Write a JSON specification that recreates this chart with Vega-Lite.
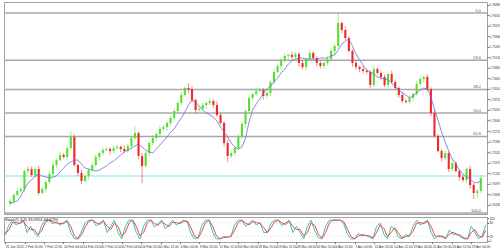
{
  "$schema": "https://vega.github.io/schema/vega-lite/v6.json",
  "padding": {"left": 2, "top": 1, "right": 0, "bottom": 0},
  "background": "white",
  "config": {"view": {"stroke": "#a0a0a0", "strokeWidth": 1}, "font": "Liberation Sans", "axis": {"labelFont": "Liberation Sans", "labelColor": "#333", "tickColor": "#666", "domain": false, "grid": false}},
  "spacing": 0,
  "datasets": {
    "candles": [
      {"b":0,"o":0.70300,"h":0.70480,"l":0.70240,"c":0.70400,"ma":0.70334},
      {"b":3,"o":0.70400,"h":0.70648,"l":0.70300,"c":0.70598,"ma":0.70367},
      {"b":6,"o":0.70598,"h":0.70840,"l":0.70528,"c":0.70730,"ma":0.70400},
      {"b":9,"o":0.70730,"h":0.70866,"l":0.70680,"c":0.70796,"ma":0.70565},
      {"b":12,"o":0.70796,"h":0.71450,"l":0.70676,"c":0.71390,"ma":0.70796},
      {"b":15,"o":0.71390,"h":0.71546,"l":0.71310,"c":0.71456,"ma":0.70994},
      {"b":18,"o":0.71456,"h":0.71536,"l":0.71198,"c":0.71258,"ma":0.71093},
      {"b":21,"o":0.71258,"h":0.71506,"l":0.71158,"c":0.71456,"ma":0.71225},
      {"b":24,"o":0.71456,"h":0.71566,"l":0.70594,"c":0.70664,"ma":0.71291},
      {"b":27,"o":0.70664,"h":0.70866,"l":0.70614,"c":0.70796,"ma":0.71225},
      {"b":30,"o":0.70796,"h":0.71087,"l":0.70676,"c":0.71027,"ma":0.71192},
      {"b":33,"o":0.71027,"h":0.71381,"l":0.70947,"c":0.71291,"ma":0.71159},
      {"b":36,"o":0.71291,"h":0.71668,"l":0.71231,"c":0.71588,"ma":0.71192},
      {"b":39,"o":0.71588,"h":0.71803,"l":0.71488,"c":0.71753,"ma":0.71225},
      {"b":42,"o":0.71753,"h":0.72028,"l":0.71683,"c":0.71918,"ma":0.71357},
      {"b":45,"o":0.71918,"h":0.71988,"l":0.71802,"c":0.71852,"ma":0.71489},
      {"b":48,"o":0.71852,"h":0.72209,"l":0.71732,"c":0.72149,"ma":0.71621},
      {"b":51,"o":0.72149,"h":0.72710,"l":0.72069,"c":0.72512,"ma":0.71687},
      {"b":54,"o":0.72512,"h":0.72592,"l":0.71528,"c":0.71588,"ma":0.71753},
      {"b":57,"o":0.71588,"h":0.71638,"l":0.71224,"c":0.71324,"ma":0.71753},
      {"b":60,"o":0.71324,"h":0.71434,"l":0.70961,"c":0.71060,"ma":0.71621},
      {"b":63,"o":0.71060,"h":0.71295,"l":0.71010,"c":0.71225,"ma":0.71489},
      {"b":66,"o":0.71225,"h":0.71483,"l":0.71105,"c":0.71423,"ma":0.71456},
      {"b":69,"o":0.71423,"h":0.71678,"l":0.71343,"c":0.71588,"ma":0.71423},
      {"b":72,"o":0.71588,"h":0.71932,"l":0.71528,"c":0.71852,"ma":0.71390},
      {"b":75,"o":0.71852,"h":0.72034,"l":0.71752,"c":0.71984,"ma":0.71423},
      {"b":78,"o":0.71984,"h":0.72193,"l":0.71914,"c":0.72083,"ma":0.71489},
      {"b":81,"o":0.72083,"h":0.72186,"l":0.72033,"c":0.72116,"ma":0.71555},
      {"b":84,"o":0.72116,"h":0.72176,"l":0.71930,"c":0.72050,"ma":0.71654},
      {"b":87,"o":0.72050,"h":0.72239,"l":0.71970,"c":0.72149,"ma":0.71720},
      {"b":90,"o":0.72149,"h":0.72262,"l":0.72089,"c":0.72182,"ma":0.71819},
      {"b":93,"o":0.72182,"h":0.72232,"l":0.72016,"c":0.72116,"ma":0.71918},
      {"b":96,"o":0.72116,"h":0.72226,"l":0.71980,"c":0.72050,"ma":0.72017},
      {"b":99,"o":0.72050,"h":0.72285,"l":0.71995,"c":0.72215,"ma":0.72083},
      {"b":102,"o":0.72215,"h":0.72539,"l":0.72095,"c":0.72479,"ma":0.72149},
      {"b":105,"o":0.72479,"h":0.72850,"l":0.72399,"c":0.72644,"ma":0.72215},
      {"b":108,"o":0.72644,"h":0.72694,"l":0.71785,"c":0.71885,"ma":0.72281},
      {"b":111,"o":0.71885,"h":0.71995,"l":0.70994,"c":0.71555,"ma":0.72182},
      {"b":114,"o":0.71555,"h":0.72054,"l":0.71505,"c":0.71984,"ma":0.72083},
      {"b":117,"o":0.71984,"h":0.72374,"l":0.71864,"c":0.72314,"ma":0.72017},
      {"b":120,"o":0.72314,"h":0.72569,"l":0.72234,"c":0.72479,"ma":0.71984},
      {"b":123,"o":0.72479,"h":0.72661,"l":0.72379,"c":0.72611,"ma":0.72116},
      {"b":126,"o":0.72611,"h":0.72886,"l":0.72541,"c":0.72776,"ma":0.72248},
      {"b":129,"o":0.72776,"h":0.72912,"l":0.72726,"c":0.72842,"ma":0.72380},
      {"b":132,"o":0.72842,"h":0.73034,"l":0.72722,"c":0.72974,"ma":0.72512},
      {"b":135,"o":0.72974,"h":0.73229,"l":0.72894,"c":0.73139,"ma":0.72677},
      {"b":138,"o":0.73139,"h":0.73450,"l":0.73079,"c":0.73370,"ma":0.72776},
      {"b":141,"o":0.73370,"h":0.73684,"l":0.73270,"c":0.73634,"ma":0.72974},
      {"b":144,"o":0.73634,"h":0.74008,"l":0.73564,"c":0.73898,"ma":0.73139},
      {"b":147,"o":0.73898,"h":0.74199,"l":0.73848,"c":0.74129,"ma":0.73337},
      {"b":150,"o":0.74129,"h":0.74294,"l":0.73976,"c":0.74096,"ma":0.73568},
      {"b":153,"o":0.74096,"h":0.74186,"l":0.73653,"c":0.73733,"ma":0.73733},
      {"b":156,"o":0.73733,"h":0.73783,"l":0.73303,"c":0.73403,"ma":0.73667},
      {"b":159,"o":0.73403,"h":0.73546,"l":0.73333,"c":0.73436,"ma":0.73535},
      {"b":162,"o":0.73436,"h":0.73638,"l":0.73386,"c":0.73568,"ma":0.73403},
      {"b":165,"o":0.73568,"h":0.73694,"l":0.73448,"c":0.73634,"ma":0.73304},
      {"b":168,"o":0.73634,"h":0.73790,"l":0.73554,"c":0.73700,"ma":0.73238},
      {"b":171,"o":0.73700,"h":0.73750,"l":0.73468,"c":0.73568,"ma":0.73172},
      {"b":174,"o":0.73568,"h":0.73678,"l":0.73168,"c":0.73238,"ma":0.73040},
      {"b":177,"o":0.73238,"h":0.73308,"l":0.72924,"c":0.72974,"ma":0.72842},
      {"b":180,"o":0.72974,"h":0.73034,"l":0.72194,"c":0.72314,"ma":0.72677},
      {"b":183,"o":0.72314,"h":0.72404,"l":0.71687,"c":0.71885,"ma":0.72512},
      {"b":186,"o":0.71885,"h":0.72064,"l":0.71825,"c":0.71984,"ma":0.72314},
      {"b":189,"o":0.71984,"h":0.72199,"l":0.71884,"c":0.72149,"ma":0.72182},
      {"b":192,"o":0.72149,"h":0.72622,"l":0.72079,"c":0.72512,"ma":0.72116},
      {"b":195,"o":0.72512,"h":0.73011,"l":0.72462,"c":0.72941,"ma":0.72182},
      {"b":198,"o":0.72941,"h":0.73430,"l":0.72821,"c":0.73370,"ma":0.72479},
      {"b":201,"o":0.73370,"h":0.73889,"l":0.73290,"c":0.73799,"ma":0.73007},
      {"b":204,"o":0.73799,"h":0.73981,"l":0.73699,"c":0.73931,"ma":0.73403},
      {"b":207,"o":0.73931,"h":0.74140,"l":0.73861,"c":0.74030,"ma":0.73601},
      {"b":210,"o":0.74030,"h":0.74133,"l":0.73980,"c":0.74063,"ma":0.73766},
      {"b":213,"o":0.74063,"h":0.74123,"l":0.73745,"c":0.73865,"ma":0.73964},
      {"b":216,"o":0.73865,"h":0.74054,"l":0.73785,"c":0.73964,"ma":0.74096},
      {"b":219,"o":0.73964,"h":0.74377,"l":0.73864,"c":0.74327,"ma":0.74195},
      {"b":222,"o":0.74327,"h":0.74767,"l":0.74257,"c":0.74657,"ma":0.74327},
      {"b":225,"o":0.74657,"h":0.74925,"l":0.74607,"c":0.74855,"ma":0.74459},
      {"b":228,"o":0.74855,"h":0.75113,"l":0.74735,"c":0.75053,"ma":0.74624},
      {"b":231,"o":0.75053,"h":0.75275,"l":0.74973,"c":0.75185,"ma":0.74756},
      {"b":234,"o":0.75185,"h":0.75268,"l":0.75085,"c":0.75218,"ma":0.74921},
      {"b":237,"o":0.75218,"h":0.75328,"l":0.75082,"c":0.75152,"ma":0.75020},
      {"b":240,"o":0.75152,"h":0.75321,"l":0.75102,"c":0.75251,"ma":0.75086},
      {"b":243,"o":0.75251,"h":0.75311,"l":0.74834,"c":0.74954,"ma":0.75119},
      {"b":246,"o":0.74954,"h":0.75044,"l":0.74742,"c":0.74822,"ma":0.75119},
      {"b":249,"o":0.74822,"h":0.75136,"l":0.74722,"c":0.75086,"ma":0.75086},
      {"b":252,"o":0.75086,"h":0.75394,"l":0.75016,"c":0.75284,"ma":0.75086},
      {"b":255,"o":0.75284,"h":0.75354,"l":0.75069,"c":0.75119,"ma":0.75086},
      {"b":258,"o":0.75119,"h":0.75179,"l":0.74834,"c":0.74954,"ma":0.75086},
      {"b":261,"o":0.74954,"h":0.75044,"l":0.74775,"c":0.74855,"ma":0.75119},
      {"b":264,"o":0.74855,"h":0.75004,"l":0.74755,"c":0.74954,"ma":0.75119},
      {"b":267,"o":0.74954,"h":0.75196,"l":0.74884,"c":0.75086,"ma":0.75119},
      {"b":270,"o":0.75086,"h":0.75420,"l":0.75036,"c":0.75350,"ma":0.75185},
      {"b":273,"o":0.75350,"h":0.75575,"l":0.75230,"c":0.75515,"ma":0.75218},
      {"b":276,"o":0.75515,"h":0.76604,"l":0.75435,"c":0.76274,"ma":0.75383},
      {"b":279,"o":0.76274,"h":0.76324,"l":0.75943,"c":0.76043,"ma":0.75581},
      {"b":282,"o":0.76043,"h":0.76153,"l":0.75709,"c":0.75779,"ma":0.75680},
      {"b":285,"o":0.75779,"h":0.75849,"l":0.75300,"c":0.75350,"ma":0.75746},
      {"b":288,"o":0.75350,"h":0.75410,"l":0.74834,"c":0.74954,"ma":0.75515},
      {"b":291,"o":0.74954,"h":0.75044,"l":0.74742,"c":0.74822,"ma":0.75251},
      {"b":294,"o":0.74822,"h":0.74872,"l":0.74656,"c":0.74756,"ma":0.75053},
      {"b":297,"o":0.74756,"h":0.74866,"l":0.74620,"c":0.74690,"ma":0.74888},
      {"b":300,"o":0.74690,"h":0.74750,"l":0.74577,"c":0.74657,"ma":0.74723},
      {"b":303,"o":0.74657,"h":0.74707,"l":0.74128,"c":0.74228,"ma":0.74657},
      {"b":306,"o":0.74228,"h":0.74866,"l":0.74158,"c":0.74756,"ma":0.74591},
      {"b":309,"o":0.74756,"h":0.74826,"l":0.74574,"c":0.74624,"ma":0.74492},
      {"b":312,"o":0.74624,"h":0.74674,"l":0.74392,"c":0.74492,"ma":0.74459},
      {"b":315,"o":0.74492,"h":0.74582,"l":0.74158,"c":0.74228,"ma":0.74426},
      {"b":318,"o":0.74228,"h":0.74641,"l":0.74128,"c":0.74591,"ma":0.74393},
      {"b":321,"o":0.74591,"h":0.74701,"l":0.74257,"c":0.74327,"ma":0.74294},
      {"b":324,"o":0.74327,"h":0.74407,"l":0.74069,"c":0.74129,"ma":0.74162},
      {"b":327,"o":0.74129,"h":0.74179,"l":0.73798,"c":0.73898,"ma":0.74063},
      {"b":330,"o":0.73898,"h":0.74008,"l":0.73630,"c":0.73700,"ma":0.73964},
      {"b":333,"o":0.73700,"h":0.73770,"l":0.73617,"c":0.73667,"ma":0.73898},
      {"b":336,"o":0.73667,"h":0.73879,"l":0.73607,"c":0.73799,"ma":0.73799},
      {"b":339,"o":0.73799,"h":0.73981,"l":0.73699,"c":0.73931,"ma":0.73865},
      {"b":342,"o":0.73931,"h":0.74371,"l":0.73861,"c":0.74261,"ma":0.73964},
      {"b":345,"o":0.74261,"h":0.74496,"l":0.74211,"c":0.74426,"ma":0.74063},
      {"b":348,"o":0.74426,"h":0.74552,"l":0.74306,"c":0.74492,"ma":0.74129},
      {"b":351,"o":0.74492,"h":0.74582,"l":0.74016,"c":0.74096,"ma":0.74096},
      {"b":354,"o":0.74096,"h":0.74146,"l":0.73204,"c":0.73304,"ma":0.73832},
      {"b":357,"o":0.73304,"h":0.73414,"l":0.72475,"c":0.72545,"ma":0.73436},
      {"b":360,"o":0.72545,"h":0.72615,"l":0.72000,"c":0.72050,"ma":0.73073},
      {"b":363,"o":0.72050,"h":0.72110,"l":0.71699,"c":0.71819,"ma":0.72677},
      {"b":366,"o":0.71819,"h":0.72064,"l":0.71739,"c":0.71984,"ma":0.72347},
      {"b":369,"o":0.71984,"h":0.72034,"l":0.71356,"c":0.71456,"ma":0.72050},
      {"b":372,"o":0.71456,"h":0.71764,"l":0.71386,"c":0.71654,"ma":0.71786},
      {"b":375,"o":0.71654,"h":0.71724,"l":0.71340,"c":0.71390,"ma":0.71621},
      {"b":378,"o":0.71390,"h":0.71450,"l":0.71072,"c":0.71192,"ma":0.71423},
      {"b":381,"o":0.71192,"h":0.71272,"l":0.71013,"c":0.71093,"ma":0.71291},
      {"b":384,"o":0.71093,"h":0.71506,"l":0.70993,"c":0.71456,"ma":0.71192},
      {"b":387,"o":0.71456,"h":0.71566,"l":0.70800,"c":0.70928,"ma":0.71126},
      {"b":390,"o":0.70928,"h":0.70998,"l":0.70466,"c":0.70664,"ma":0.71027},
      {"b":393,"o":0.70664,"h":0.70790,"l":0.70499,"c":0.70730,"ma":0.70994},
      {"b":396,"o":0.70730,"h":0.71249,"l":0.70650,"c":0.71159,"ma":0.71060}
    ],
    "stoch": [
      {"b":0,"k":25,"d":30},{"b":3,"k":70,"d":48},{"b":6,"k":92,"d":81},{"b":9,"k":70,"d":81},{"b":12,"k":81,"d":76},
      {"b":15,"k":92,"d":87},{"b":18,"k":36,"d":64},{"b":21,"k":64,"d":50},{"b":24,"k":36,"d":50},{"b":27,"k":18,"d":27},
      {"b":30,"k":69,"d":44},{"b":33,"k":92,"d":81},{"b":36,"k":92,"d":92},{"b":39,"k":75,"d":84},{"b":42,"k":84,"d":80},
      {"b":45,"k":70,"d":77},{"b":48,"k":81,"d":76},{"b":51,"k":92,"d":87},{"b":54,"k":36,"d":64},{"b":57,"k":8,"d":22},
      {"b":60,"k":8,"d":8},{"b":63,"k":43,"d":26},{"b":66,"k":81,"d":62},{"b":69,"k":92,"d":87},{"b":72,"k":92,"d":92},
      {"b":75,"k":67,"d":80},{"b":78,"k":79,"d":73},{"b":81,"k":92,"d":86},{"b":84,"k":36,"d":64},{"b":87,"k":64,"d":50},
      {"b":90,"k":92,"d":78},{"b":93,"k":36,"d":64},{"b":96,"k":8,"d":22},{"b":99,"k":64,"d":36},{"b":102,"k":92,"d":78},
      {"b":105,"k":92,"d":92},{"b":108,"k":36,"d":64},{"b":111,"k":8,"d":22},{"b":114,"k":64,"d":36},{"b":117,"k":92,"d":78},
      {"b":120,"k":92,"d":92},{"b":123,"k":61,"d":77},{"b":126,"k":77,"d":69},{"b":129,"k":92,"d":85},{"b":132,"k":53,"d":73},
      {"b":135,"k":72,"d":63},{"b":138,"k":92,"d":82},{"b":141,"k":70,"d":81},{"b":144,"k":81,"d":76},{"b":147,"k":92,"d":87},
      {"b":150,"k":84,"d":88},{"b":153,"k":32,"d":58},{"b":156,"k":8,"d":20},{"b":159,"k":14,"d":11},{"b":162,"k":67,"d":41},
      {"b":165,"k":92,"d":80},{"b":168,"k":92,"d":92},{"b":171,"k":36,"d":64},{"b":174,"k":8,"d":22},{"b":177,"k":8,"d":8},
      {"b":180,"k":19,"d":14},{"b":183,"k":14,"d":17},{"b":186,"k":21,"d":18},{"b":189,"k":70,"d":46},{"b":192,"k":92,"d":81},
      {"b":195,"k":92,"d":92},{"b":198,"k":64,"d":78},{"b":201,"k":78,"d":71},{"b":204,"k":92,"d":85},{"b":207,"k":70,"d":81},
      {"b":210,"k":81,"d":76},{"b":213,"k":36,"d":59},{"b":216,"k":36,"d":36},{"b":219,"k":78,"d":57},{"b":222,"k":92,"d":85},
      {"b":225,"k":92,"d":92},{"b":228,"k":67,"d":80},{"b":231,"k":79,"d":73},{"b":234,"k":92,"d":86},{"b":237,"k":36,"d":64},
      {"b":240,"k":64,"d":50},{"b":243,"k":36,"d":50},{"b":246,"k":8,"d":22},{"b":249,"k":64,"d":36},{"b":252,"k":92,"d":78},
      {"b":255,"k":46,"d":69},{"b":258,"k":13,"d":30},{"b":261,"k":8,"d":11},{"b":264,"k":64,"d":36},{"b":267,"k":92,"d":78},
      {"b":270,"k":92,"d":92},{"b":273,"k":92,"d":92},{"b":276,"k":92,"d":92},{"b":279,"k":75,"d":84},{"b":282,"k":28,"d":52},
      {"b":285,"k":8,"d":18},{"b":288,"k":8,"d":8},{"b":291,"k":33,"d":21},{"b":294,"k":21,"d":27},{"b":297,"k":25,"d":23},
      {"b":300,"k":16,"d":21},{"b":303,"k":8,"d":12},{"b":306,"k":64,"d":36},{"b":309,"k":78,"d":71},{"b":312,"k":29,"d":54},
      {"b":315,"k":8,"d":19},{"b":318,"k":64,"d":36},{"b":321,"k":51,"d":58},{"b":324,"k":16,"d":34},{"b":327,"k":8,"d":12},
      {"b":330,"k":28,"d":18},{"b":333,"k":18,"d":23},{"b":336,"k":64,"d":41},{"b":339,"k":92,"d":78},{"b":342,"k":70,"d":81},
      {"b":345,"k":81,"d":76},{"b":348,"k":92,"d":87},{"b":351,"k":36,"d":64},{"b":354,"k":8,"d":22},{"b":357,"k":25,"d":17},
      {"b":360,"k":16,"d":21},{"b":363,"k":8,"d":12},{"b":366,"k":48,"d":28},{"b":369,"k":28,"d":38},{"b":372,"k":29,"d":29},
      {"b":375,"k":18,"d":24},{"b":378,"k":8,"d":13},{"b":381,"k":8,"d":8},{"b":384,"k":64,"d":36},{"b":387,"k":36,"d":50},
      {"b":390,"k":8,"d":22},{"b":393,"k":22,"d":15},{"b":396,"k":71,"d":47}
    ],
    "fib": [
      {"level":"0.0","price":0.76604},
      {"level":"23.6","price":0.75046},
      {"level":"38.2","price":0.74083},
      {"level":"50.0","price":0.73304},
      {"level":"61.8","price":0.72525},
      {"level":"100.0","price":0.70004}
    ],
    "cur": [{"price":0.71225}],
    "levels": [{"v":20},{"v":80}],
    "stochlabel": [{"txt":"Stoch(5,3,3) 33.0954 44.6290"}]
  },
  "vconcat": [
    {
      "width": 483,
      "height": 212,
      "layer": [
        {
          "data": {"name": "fib"},
          "mark": {"type": "rule", "color": "#a8a8a8", "strokeWidth": 1.5},
          "encoding": {
            "y": {"field": "price", "type": "quantitative", "scale": {"domain": [0.69971, 0.76967], "zero": false, "nice": false},
              "axis": {"orient": "right", "values": [0.7688,0.7653,0.7619,0.7584,0.7549,0.7514,0.748,0.7445,0.741,0.7375,0.7341,0.7306,0.7271,0.7236,0.7202,0.7167,0.7132,0.7097,0.7063,0.7028], "format": ".5f", "labelFontSize": 3.2, "tickSize": 1.5, "labelPadding": 0.5, "title": null}}
          }
        },
        {
          "data": {"name": "fib"},
          "mark": {"type": "text", "align": "right", "baseline": "bottom", "fontSize": 4, "color": "#555", "dy": -0.5, "dx": -1},
          "encoding": {
            "x": {"datum": 397, "type": "quantitative", "scale": {"domain": [-1, 397], "nice": false, "zero": false}, "axis": null},
            "y": {"field": "price", "type": "quantitative", "scale": {"domain": [0.69971, 0.76967], "zero": false, "nice": false},
              "axis": {"orient": "right", "values": [0.7688,0.7653,0.7619,0.7584,0.7549,0.7514,0.748,0.7445,0.741,0.7375,0.7341,0.7306,0.7271,0.7236,0.7202,0.7167,0.7132,0.7097,0.7063,0.7028], "format": ".5f", "labelFontSize": 3.2, "tickSize": 1.5, "labelPadding": 0.5, "title": null}},
            "text": {"field": "level"}
          }
        },
        {
          "data": {"name": "cur"},
          "mark": {"type": "rule", "color": "#86e3e3", "strokeWidth": 1},
          "encoding": {
            "y": {"field": "price", "type": "quantitative", "scale": {"domain": [0.69971, 0.76967], "zero": false, "nice": false},
              "axis": {"orient": "right", "values": [0.7688,0.7653,0.7619,0.7584,0.7549,0.7514,0.748,0.7445,0.741,0.7375,0.7341,0.7306,0.7271,0.7236,0.7202,0.7167,0.7132,0.7097,0.7063,0.7028], "format": ".5f", "labelFontSize": 3.2, "tickSize": 1.5, "labelPadding": 0.5, "title": null}}
          }
        },
        {
          "data": {"name": "candles"},
          "mark": {"type": "rule", "strokeWidth": 0.8, "opacity": 0.7},
          "encoding": {
            "x": {"field": "b", "type": "quantitative", "scale": {"domain": [-1, 397], "nice": false, "zero": false}, "axis": null},
            "y": {"field": "l", "type": "quantitative", "scale": {"domain": [0.69971, 0.76967], "zero": false, "nice": false},
              "axis": {"orient": "right", "values": [0.7688,0.7653,0.7619,0.7584,0.7549,0.7514,0.748,0.7445,0.741,0.7375,0.7341,0.7306,0.7271,0.7236,0.7202,0.7167,0.7132,0.7097,0.7063,0.7028], "format": ".5f", "labelFontSize": 3.2, "tickSize": 1.5, "labelPadding": 0.5, "title": null}},
            "y2": {"field": "h"},
            "color": {"condition": {"test": "datum.c >= datum.o", "value": "#55e030"}, "value": "#f02828"}
          }
        },
        {
          "data": {"name": "candles"},
          "mark": {"type": "bar", "size": 2.1},
          "encoding": {
            "x": {"field": "b", "type": "quantitative", "scale": {"domain": [-1, 397], "nice": false, "zero": false}, "axis": null},
            "y": {"field": "o", "type": "quantitative", "scale": {"domain": [0.69971, 0.76967], "zero": false, "nice": false},
              "axis": {"orient": "right", "values": [0.7688,0.7653,0.7619,0.7584,0.7549,0.7514,0.748,0.7445,0.741,0.7375,0.7341,0.7306,0.7271,0.7236,0.7202,0.7167,0.7132,0.7097,0.7063,0.7028], "format": ".5f", "labelFontSize": 3.2, "tickSize": 1.5, "labelPadding": 0.5, "title": null}},
            "y2": {"field": "c"},
            "color": {"condition": {"test": "datum.c >= datum.o", "value": "#55e030"}, "value": "#f02828"}
          }
        },
        {
          "data": {"name": "candles"},
          "mark": {"type": "line", "color": "#6f6fd8", "strokeWidth": 0.8},
          "encoding": {
            "x": {"field": "b", "type": "quantitative", "scale": {"domain": [-1, 397], "nice": false, "zero": false}, "axis": null},
            "y": {"field": "ma", "type": "quantitative", "scale": {"domain": [0.69971, 0.76967], "zero": false, "nice": false},
              "axis": {"orient": "right", "values": [0.7688,0.7653,0.7619,0.7584,0.7549,0.7514,0.748,0.7445,0.741,0.7375,0.7341,0.7306,0.7271,0.7236,0.7202,0.7167,0.7132,0.7097,0.7063,0.7028], "format": ".5f", "labelFontSize": 3.2, "tickSize": 1.5, "labelPadding": 0.5, "title": null}}
          }
        }
      ]
    },
    {
      "width": 483,
      "height": 25,
      "layer": [
        {
          "data": {"name": "levels"},
          "mark": {"type": "rule", "color": "#c0c0c0", "strokeWidth": 0.6, "strokeDash": [1, 2]},
          "encoding": {
            "y": {"field": "v", "type": "quantitative", "scale": {"domain": [-6, 106], "nice": false, "zero": false},
              "axis": {"orient": "right", "values": [0, 20, 80, 100], "labelFontSize": 3.2, "tickSize": 1.5, "labelPadding": 0.5, "title": null}}
          }
        },
        {
          "data": {"name": "stoch"},
          "mark": {"type": "line", "color": "#3cc4ac", "strokeWidth": 1},
          "encoding": {
            "x": {"field": "b", "type": "quantitative", "scale": {"domain": [-1, 397], "nice": false, "zero": false},
              "axis": {"values": [0,16,32,48,64,80,96,112,128,144,160,176,192,208,224,240,256,272,288,304,320,336,352,368,384],
                "labelExpr": "['31 Jan 2022','2 Feb 20:00','7 Feb 12:00','10 Feb 04:00','14 Feb 20:00','17 Feb 12:00','22 Feb 04:00','24 Feb 20:00','1 Mar 12:00','4 Mar 04:00','8 Mar 20:00','11 Mar 12:00','16 Mar 04:00','18 Mar 20:00','23 Mar 12:00','28 Mar 04:00','30 Mar 20:00','4 Apr 12:00','7 Apr 04:00','11 Apr 20:00','14 Apr 12:00','19 Apr 04:00','21 Apr 20:00','26 Apr 12:00','29 Apr 04:00'][round(datum.value/16)]",
                "labelFontSize": 3.3, "labelAlign": "left", "tickSize": 1.5, "labelPadding": 0.5, "labelOverlap": false, "labelFlush": false, "title": null}},
            "y": {"field": "k", "type": "quantitative", "scale": {"domain": [-6, 106], "nice": false, "zero": false},
              "axis": {"orient": "right", "values": [0, 20, 80, 100], "labelFontSize": 3.2, "tickSize": 1.5, "labelPadding": 0.5, "title": null}}
          }
        },
        {
          "data": {"name": "stoch"},
          "mark": {"type": "line", "color": "#ec4a4a", "strokeWidth": 1},
          "encoding": {
            "x": {"field": "b", "type": "quantitative", "scale": {"domain": [-1, 397], "nice": false, "zero": false},
              "axis": {"values": [0,16,32,48,64,80,96,112,128,144,160,176,192,208,224,240,256,272,288,304,320,336,352,368,384],
                "labelExpr": "['31 Jan 2022','2 Feb 20:00','7 Feb 12:00','10 Feb 04:00','14 Feb 20:00','17 Feb 12:00','22 Feb 04:00','24 Feb 20:00','1 Mar 12:00','4 Mar 04:00','8 Mar 20:00','11 Mar 12:00','16 Mar 04:00','18 Mar 20:00','23 Mar 12:00','28 Mar 04:00','30 Mar 20:00','4 Apr 12:00','7 Apr 04:00','11 Apr 20:00','14 Apr 12:00','19 Apr 04:00','21 Apr 20:00','26 Apr 12:00','29 Apr 04:00'][round(datum.value/16)]",
                "labelFontSize": 3.3, "labelAlign": "left", "tickSize": 1.5, "labelPadding": 0.5, "labelOverlap": false, "labelFlush": false, "title": null}},
            "y": {"field": "d", "type": "quantitative", "scale": {"domain": [-6, 106], "nice": false, "zero": false},
              "axis": {"orient": "right", "values": [0, 20, 80, 100], "labelFontSize": 3.2, "tickSize": 1.5, "labelPadding": 0.5, "title": null}}
          }
        },
        {
          "data": {"name": "stochlabel"},
          "mark": {"type": "text", "align": "left", "baseline": "top", "fontSize": 4, "color": "#222", "dx": 1, "dy": 1},
          "encoding": {
            "x": {"datum": -1, "type": "quantitative", "scale": {"domain": [-1, 397], "nice": false, "zero": false},
              "axis": {"values": [0,16,32,48,64,80,96,112,128,144,160,176,192,208,224,240,256,272,288,304,320,336,352,368,384],
                "labelExpr": "['31 Jan 2022','2 Feb 20:00','7 Feb 12:00','10 Feb 04:00','14 Feb 20:00','17 Feb 12:00','22 Feb 04:00','24 Feb 20:00','1 Mar 12:00','4 Mar 04:00','8 Mar 20:00','11 Mar 12:00','16 Mar 04:00','18 Mar 20:00','23 Mar 12:00','28 Mar 04:00','30 Mar 20:00','4 Apr 12:00','7 Apr 04:00','11 Apr 20:00','14 Apr 12:00','19 Apr 04:00','21 Apr 20:00','26 Apr 12:00','29 Apr 04:00'][round(datum.value/16)]",
                "labelFontSize": 3.3, "labelAlign": "left", "tickSize": 1.5, "labelPadding": 0.5, "labelOverlap": false, "labelFlush": false, "title": null}},
            "y": {"datum": 106, "type": "quantitative", "scale": {"domain": [-6, 106], "nice": false, "zero": false},
              "axis": {"orient": "right", "values": [0, 20, 80, 100], "labelFontSize": 3.2, "tickSize": 1.5, "labelPadding": 0.5, "title": null}},
            "text": {"field": "txt"}
          }
        }
      ]
    }
  ]
}
